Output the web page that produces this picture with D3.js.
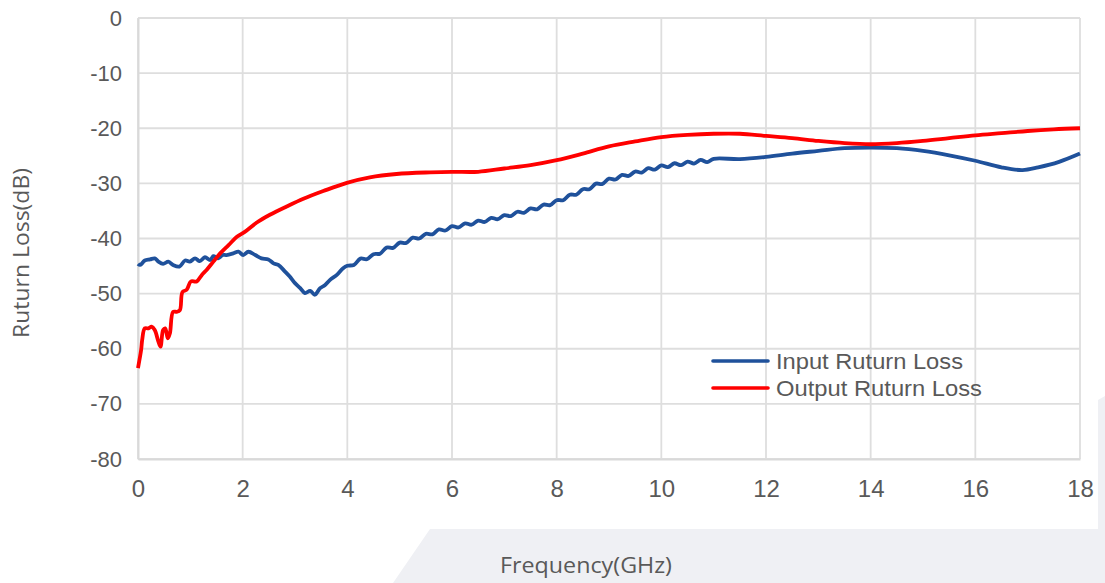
<!DOCTYPE html>
<html><head><meta charset="utf-8">
<script src="https://cdn.jsdelivr.net/npm/d3@7"></script>
<style>html,body{margin:0;padding:0;background:#fff;}svg{display:block;}</style>
</head><body>
<svg id="chart" width="1105" height="583"></svg>
<script>
const xTicks = [0, 2, 4, 6, 8, 10, 12, 14, 16, 18];
const yTicks = [0, -10, -20, -30, -40, -50, -60, -70, -80];
const seriesNames = ["Input Ruturn Loss", "Output Ruturn Loss"];

const inputFreq = [0, 0.04, 0.13, 0.23, 0.32, 0.39, 0.48, 0.58, 0.67, 0.79, 0.90, 0.99, 1.09, 1.18, 1.28, 1.38, 1.44, 1.53, 1.62, 1.69, 1.82, 1.92, 2.01, 2.11, 2.24, 2.36, 2.49, 2.59, 2.68, 2.81, 2.90, 3.0, 3.10, 3.19, 3.29, 3.38, 3.48, 3.57, 3.67, 3.80, 3.92,
  4.000, 4.125, 4.250, 4.375, 4.500, 4.625, 4.750, 4.875, 5.000, 5.125, 5.250, 5.375, 5.500, 5.625, 5.750, 5.875,
  6.000, 6.125, 6.250, 6.375, 6.500, 6.625, 6.750, 6.875, 7.000, 7.125, 7.250, 7.375, 7.500, 7.625, 7.750, 7.875,
  8.000, 8.125, 8.250, 8.375, 8.500, 8.625, 8.750, 8.875, 9.000, 9.125, 9.250, 9.375, 9.500, 9.625, 9.750, 9.875,
  10.000, 10.125, 10.250, 10.375, 10.500, 10.625, 10.750, 10.875, 11.000,
  11.5, 12.0, 12.5, 13.0, 13.5, 14.0, 14.5, 15.0, 15.5, 16.0, 16.5, 16.9, 17.2, 17.6, 18.0];
const inputDb = [-44.6, -44.8, -44.0, -43.8, -43.6, -44.2, -44.6, -44.2, -44.8, -45.1, -44.0, -44.2, -43.6, -44.1, -43.4, -43.9, -43.2, -43.6, -43.0, -43.0, -42.7, -42.4, -43.0, -42.4, -43.0, -43.6, -43.8, -44.5, -44.8, -46.0, -46.9, -48.1, -49.0, -49.9, -49.5, -50.2, -49.0, -48.5, -47.5, -46.6, -45.4,
  -44.95, -44.8, -43.65, -43.75, -42.85, -42.75, -41.65, -41.7, -40.75, -40.8, -39.85, -40.0, -39.15, -39.25, -38.35, -38.55,
  -37.75, -38.0, -37.25, -37.5, -36.75, -37.0, -36.25, -36.5, -35.75, -35.95, -35.15, -35.35, -34.55, -34.7, -33.85, -33.95,
  -33.05, -33.05, -32.05, -32.05, -31.05, -31.05, -30.05, -30.1, -29.15, -29.3, -28.45, -28.65, -27.85, -28.05, -27.25, -27.5,
  -26.75, -27.05, -26.35, -26.7, -26.05, -26.4, -25.75, -26.15, -25.55,
  -25.6, -25.2, -24.6, -24.1, -23.6, -23.5, -23.6, -24.1, -24.9, -25.9, -27.1, -27.6, -27.1, -26.1, -24.6];

const outputFreq = [0, 0.06, 0.08, 0.13, 0.2, 0.26, 0.32, 0.39, 0.43, 0.48, 0.52, 0.57, 0.61, 0.67, 0.74, 0.80, 0.85, 0.93, 1.01, 1.12, 1.22, 1.31, 1.44, 1.57, 1.73, 1.89, 2.04, 2.27, 2.52, 2.84, 3.16, 3.54, 3.99, 4.43, 4.94, 5.58, 6.0, 6.5, 7.0, 7.5, 8.0, 8.5, 9.0, 9.5, 10.0, 10.5, 11.0, 11.5, 12.0, 12.5, 13.0, 13.5, 14.0, 14.5, 15.0, 15.5, 16.0, 16.5, 17.0, 17.5, 18.0];
const outputDb = [-63.5, -60.2, -58.4, -56.3, -56.3, -56.0, -56.6, -58.7, -59.6, -56.6, -56.3, -58.1, -57.2, -53.3, -53.3, -53.0, -49.7, -49.3, -47.8, -47.8, -46.6, -45.7, -44.2, -42.7, -41.2, -39.7, -38.8, -37.1, -35.7, -34.2, -32.8, -31.4, -29.9, -28.9, -28.3, -28.0, -27.9, -27.9, -27.3, -26.7, -25.8, -24.6, -23.3, -22.4, -21.6, -21.2, -21.0, -21.0, -21.4, -21.8, -22.3, -22.7, -22.9, -22.7, -22.3, -21.8, -21.3, -20.9, -20.5, -20.2, -20.0];

(function () {
const svg = d3.select("#chart");
const pL = 138, pR = 1080, pT = 18, pB = 459;
const txt = "#595959";

svg.append("polygon")
  .attr("points", [[393,583],[430,529],[1098,529],[1098,400],[1105,396],[1105,583]].map(p=>p.join(",")).join(" "))
  .attr("fill", "#eff0f4");

const x = d3.scaleLinear().domain([0, 18]).range([pL, pR]);
const y = d3.scaleLinear().domain([-80, 0]).range([pB, pT]);

const grid = svg.append("g");
grid.selectAll("line.v").data(xTicks).enter().append("line")
  .attr("x1", d => x(d)).attr("x2", d => x(d))
  .attr("y1", pT).attr("y2", pB)
  .attr("stroke", "#dedede").attr("stroke-width", 1.8);
grid.selectAll("line.h").data(yTicks).enter().append("line")
  .attr("x1", pL).attr("x2", pR)
  .attr("y1", d => y(d)).attr("y2", d => y(d))
  .attr("stroke", "#dedede").attr("stroke-width", 1.8);

const fmt = d => String(d);
const xAxis = d3.axisBottom(x).tickValues(xTicks).tickFormat(fmt).tickSize(0).tickPadding(21);
const gx = svg.append("g").attr("transform", `translate(0,${pB})`).call(xAxis);
gx.select(".domain").attr("stroke", "#d9d9d9").attr("stroke-width", 2);
gx.selectAll("text").attr("font-family", "Liberation Sans, Arial, sans-serif").attr("font-size", 24).attr("fill", txt);

const yAxis = d3.axisLeft(y).tickValues(yTicks).tickFormat(fmt).tickSize(0).tickPadding(16);
const gy = svg.append("g").attr("transform", `translate(${pL},0)`).call(yAxis);
gy.select(".domain").attr("stroke", "#d9d9d9").attr("stroke-width", 2);
gy.selectAll("text").attr("font-family", "Liberation Sans, Arial, sans-serif").attr("font-size", 22).attr("fill", txt);

svg.append("text").attr("x", 586).attr("y", 573).attr("text-anchor", "middle")
  .attr("font-family", "Open Sans, sans-serif").attr("font-size", 21).attr("fill", txt)
  .attr("textLength", 172).attr("lengthAdjust", "spacingAndGlyphs")
  .text("Frequency(GHz)");
svg.append("text").attr("transform", "translate(29,253) rotate(-90)").attr("text-anchor", "middle")
  .attr("font-family", "Open Sans, sans-serif").attr("font-size", 21).attr("fill", txt)
  .attr("textLength", 170).attr("lengthAdjust", "spacingAndGlyphs")
  .text("Ruturn Loss(dB)");

const line = d3.line().x(d => x(d[0])).y(d => y(d[1])).curve(d3.curveCatmullRom.alpha(0.5));
const inputData = inputFreq.map((f, i) => [f, inputDb[i]]);
const outputData = outputFreq.map((f, i) => [f, outputDb[i]]);
const colors = ["#1f519b", "#ff0000"];

svg.append("path").datum(inputData).attr("d", line)
  .attr("fill", "none").attr("stroke", colors[0]).attr("stroke-width", 3.8).attr("stroke-linejoin", "round");
svg.append("path").datum(outputData).attr("d", line)
  .attr("fill", "none").attr("stroke", colors[1]).attr("stroke-width", 3.8).attr("stroke-linejoin", "round");

const lg = svg.append("g");
const legendLen = [187, 206];
seriesNames.forEach((n, i) => {
  const ly = 361 + i * 27;
  lg.append("line").attr("x1", 713).attr("x2", 768).attr("y1", ly).attr("y2", ly)
    .attr("stroke", colors[i]).attr("stroke-width", 3.6).attr("stroke-linecap", "round");
  lg.append("text").attr("x", 776).attr("y", ly + 8)
    .attr("font-family", "Liberation Sans, Arial, sans-serif").attr("font-size", 22).attr("fill", txt)
    .attr("textLength", legendLen[i]).attr("lengthAdjust", "spacingAndGlyphs")
    .text(n);
});
})();
</script>
</body></html>
